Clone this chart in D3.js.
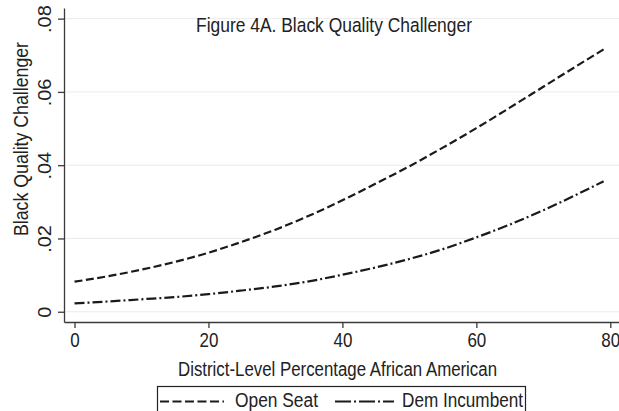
<!DOCTYPE html>
<html>
<head>
<meta charset="utf-8">
<script src="https://cdn.jsdelivr.net/npm/d3@7"></script>
<style>
  body { margin: 0; background: #fff; }
  svg { display: block; font-family: "Liberation Sans", Arial, sans-serif; }
  .grid line { stroke: #ebebeb; stroke-width: 1; }
  .axis path, .axis line { stroke: #3a3a3a; stroke-width: 1.3; }
  .axis text { fill: #222; font-size: 20px; font-family: "Liberation Sans", Arial, sans-serif; }
</style>
</head>
<body>
<div id="chart"></div>
<script>

// predicted values
var pctBlack = [0, 5, 10, 15, 20, 25, 30, 35, 40, 45, 50, 55, 60, 65, 70, 75, 79];
var openSeat = [.0082, .0097, .0115, .0136, .0161, .0191, .0224, .0262, .0304, .0350, .0397, .0448, .0501, .0557, .0614, .0671, .0716];
var demIncumbent = [.0023, .0028, .0034, .0040, .0048, .0058, .0069, .0083, .0101, .0121, .0144, .0171, .0203, .0238, .0277, .0320, .0356];

var xTicks = [0, 20, 40, 60, 80];
var yTicks = [0, .02, .04, .06, .08];

var seriesNames = ["Open Seat", "Dem Incumbent"];
var titleText = "Figure 4A. Black Quality Challenger";
var xTitle = "District-Level Percentage African American";
var yTitle = "Black Quality Challenger";

//====================================================================================

var width = 619, height = 411;
var plot = {left: 64, right: 619, top: 8, bottom: 322};

var svg = d3.select("#chart").append("svg")
    .attr("width", width)
    .attr("height", height);

var x = d3.scaleLinear().domain([-1.57, 81.3]).range([plot.left, plot.right]);
var y = d3.scaleLinear().domain([-0.0028, 0.0829]).range([plot.bottom, plot.top]);

var fmtY = function(d){
    return d === 0 ? "0" : d3.format(".2f")(d).replace(/^0\./, ".");
};

// grid lines
svg.append("g").attr("class", "grid")
  .selectAll("line").data(yTicks).enter().append("line")
    .attr("x1", plot.left).attr("x2", plot.right)
    .attr("y1", function(d){ return y(d); })
    .attr("y2", function(d){ return y(d); });

// y axis
var yAxis = svg.append("g").attr("class", "axis")
    .attr("transform", "translate(" + plot.left + ",0)")
    .call(d3.axisLeft(y).tickValues(yTicks).tickSize(6).tickSizeOuter(0).tickFormat(fmtY));
yAxis.selectAll("text")
    .attr("x", null).attr("dy", null)
    .attr("text-anchor", "middle")
    .attr("transform", "translate(-13.5,0) rotate(-90) scale(1,0.91)");

// x axis
var xAxis = svg.append("g").attr("class", "axis")
    .attr("transform", "translate(0," + plot.bottom + ")")
    .call(d3.axisBottom(x).tickValues(xTicks).tickSize(6).tickSizeOuter(0).tickFormat(d3.format("d")));
xAxis.selectAll("text")
    .attr("y", null).attr("dy", null)
    .attr("transform", "translate(0,25) scale(0.85,1)");

// titles
svg.append("text")
    .attr("x", 196).attr("y", 32)
    .attr("font-size", 20.5).attr("fill", "#222")
    .attr("textLength", 276).attr("lengthAdjust", "spacingAndGlyphs")
    .text(titleText);

svg.append("text")
    .attr("x", 337.5).attr("y", 376)
    .attr("text-anchor", "middle")
    .attr("font-size", 19.5).attr("fill", "#222")
    .attr("textLength", 319).attr("lengthAdjust", "spacingAndGlyphs")
    .text(xTitle);

svg.append("text")
    .attr("transform", "translate(28,139) rotate(-90)")
    .attr("text-anchor", "middle")
    .attr("font-size", 19.5).attr("fill", "#222")
    .attr("textLength", 194).attr("lengthAdjust", "spacingAndGlyphs")
    .text(yTitle);

// lines
var dashes = ["8,3.5", "10,3,2,3"];

var line = d3.line()
    .x(function(d){ return x(d[0]); })
    .y(function(d){ return y(d[1]); })
    .curve(d3.curveMonotoneX);

[openSeat, demIncumbent].forEach(function(vals, i){
    svg.append("path")
        .datum(d3.zip(pctBlack, vals))
        .attr("fill", "none")
        .attr("stroke", "#1a1a1a")
        .attr("stroke-width", 2.2)
        .attr("stroke-dasharray", dashes[i])
        .attr("d", line);
});

// legend
var legend = svg.append("g");
legend.append("rect")
    .attr("x", 157.5).attr("y", 386.5)
    .attr("width", 368).attr("height", 40)
    .attr("fill", "#fff").attr("stroke", "#222").attr("stroke-width", 1.2);

var legItems = [
    {x1: 160, x2: 224, tx: 235, tl: 83},
    {x1: 335, x2: 394, tx: 402, tl: 121}
];
legItems.forEach(function(it, i){
    legend.append("line")
        .attr("x1", it.x1).attr("x2", it.x2)
        .attr("y1", 401.5).attr("y2", 401.5)
        .attr("stroke", "#1a1a1a").attr("stroke-width", 2)
        .attr("stroke-dasharray", i === 0 ? "9,3.5" : "16,3,2,3");
    legend.append("text")
        .attr("x", it.tx).attr("y", 407)
        .attr("font-size", 19.5).attr("fill", "#222")
        .attr("textLength", it.tl).attr("lengthAdjust", "spacingAndGlyphs")
        .text(seriesNames[i]);
});

</script>
</body>
</html>
